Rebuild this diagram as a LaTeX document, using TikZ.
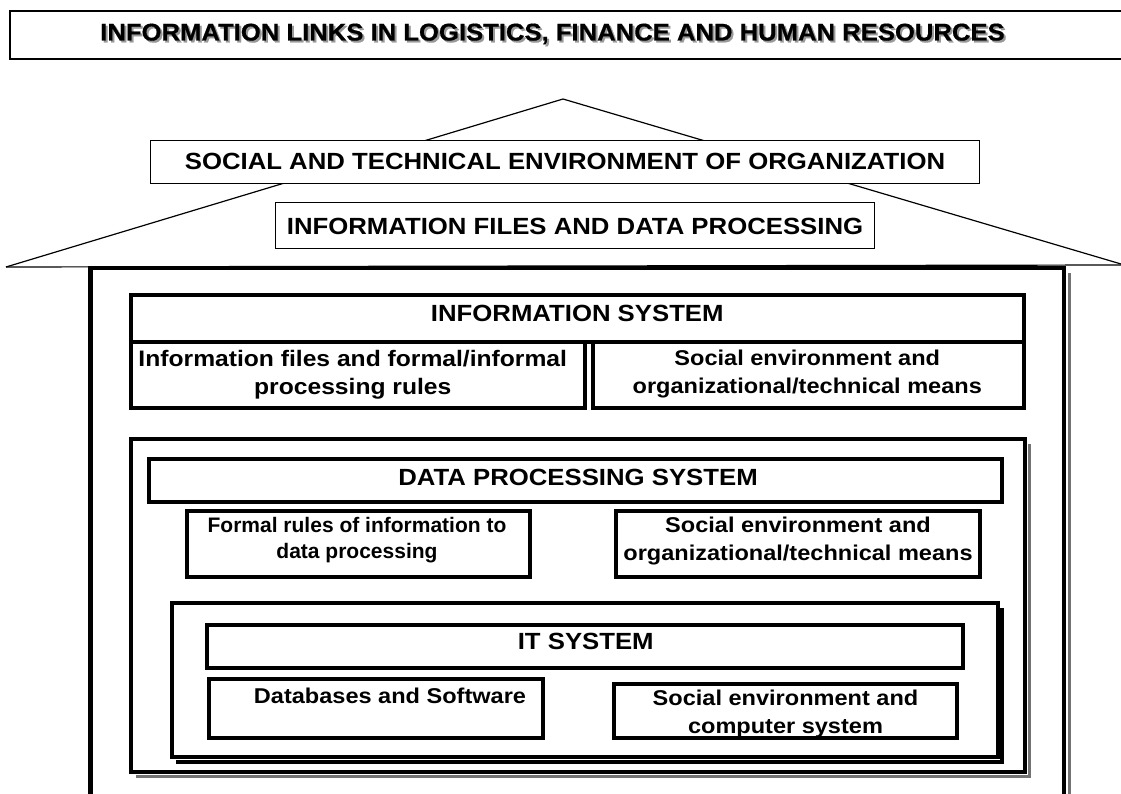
\documentclass[tikz,border=0pt]{standalone}
\usepackage{fontspec}
\setmainfont{Liberation Sans}[FakeStretch=1.1]
\newfontfamily\tdfont{Liberation Sans}[FakeStretch=1.06, FakeBold=0.6]
\newfontfamily\hepfont{Liberation Sans}
\usetikzlibrary{positioning}

\begin{document}
\begin{tikzpicture}[x=1pt, y=-1pt, font=\bfseries, line join=miter]
	\useasboundingbox (0,0) rectangle (1121,794);
	
	% ===== style =====
	\tikzset{
		hop/.style={draw, fill=white, line width=4pt, inner sep=0pt, outer sep=0pt},
		hopmong/.style={hop, line width=1.1pt},
		chu/.style={font=\bfseries\fontsize{23.4}{28}\selectfont, inner sep=0pt, outer sep=0pt},
		chunho/.style={font=\bfseries\fontsize{21.4}{27.5}\selectfont, align=center, inner sep=0pt, outer sep=0pt},
		bong/.style={draw=black!55, line width=3.5pt},
		mai/.style={line width=1.2pt},
		tdchu/.style={font=\tdfont\bfseries\fontsize{24.2}{29}\selectfont, anchor=base, inner sep=0pt},
	}
	
	% ===== tiêu đề =====
	\draw[line width=2.6pt] (1121,11) -- (10,11) -- (10,59) -- (1121,59);
	\node[tdchu, text=black!40] (bongtd) at (554.5,42.5) {INFORMATION LINKS IN LOGISTICS, FINANCE AND HUMAN RESOURCES};
	\node[tdchu] (tieude) at (552.5,40.5) {INFORMATION LINKS IN LOGISTICS, FINANCE AND HUMAN RESOURCES};
	
	% ===== mái nhà =====
	\draw[mai] (6,267) -- (563,99) -- (1121,264);
	\draw[mai] (6,267) -- (1121,265);
	
	\node[hopmong, minimum width=829, minimum height=43] (moitruong) at (565,162) {};
	\node[chu, below=12.5pt of moitruong.north] (tMoitruong) {SOCIAL AND TECHNICAL ENVIRONMENT OF ORGANIZATION};
	
	\node[hopmong, minimum width=599, minimum height=46] (tepTT) at (575,225.5) {};
	\node[chu, below=15.5pt of tepTT.north] (tTepTT) {INFORMATION FILES AND DATA PROCESSING};
	
	% ===== tường nhà =====
	\draw[bong] (1069.5,273) -- (1069.5,800);
	\draw[line width=4.5pt, fill=white] (90.5,800) -- (90.5,268) -- (1064,268) -- (1064,800);
	
	% ===== hệ thống thông tin =====
	\node[hop, minimum width=454.5, minimum height=66] (ttTrai) at (357.75,375) {};
	\node[hop, minimum width=431.5, minimum height=66] (ttPhai) at (808.25,375) {};
	\node[hop, minimum width=893.5, minimum height=47] (hethongTT) at (577.25,318.5) {};
	\node[chu, below=10pt of hethongTT.north] (tHethongTT) {INFORMATION SYSTEM};
	\node[chunho, font=\bfseries\fontsize{22.4}{27.5}\selectfont, below=8.5pt of ttTrai.north, xshift=-5pt] (tTTTrai) {Information files and formal/informal\\processing rules};
	\node[chunho, below=8pt of ttPhai.north, xshift=-1pt] (tTTPhai) {Social environment and\\organizational/technical means};
	
	% ===== hệ thống xử lý dữ liệu =====
	\node[hop, minimum width=894, minimum height=332.5] (khungXL) at (577.5,605.25) {};
	\draw[bong] ([xshift=5pt,yshift=-5pt]khungXL.north east) |- ([xshift=5pt,yshift=-5pt]khungXL.south west);
	\node[hop, minimum width=853, minimum height=43] (hethongXL) at (575.5,480.5) {};
	\node[chu, below=10pt of hethongXL.north, xshift=2.5pt] (tHethongXL) {DATA PROCESSING SYSTEM};
	\node[hop, minimum width=343, minimum height=66.5] (xlTrai) at (358.5,543.75) {};
	\node[hop, minimum width=364, minimum height=66.5] (xlPhai) at (798,543.75) {};
	\node[chunho, font=\hepfont\bfseries\fontsize{21}{26.5}\selectfont, below=6.5pt of xlTrai.north, xshift=-1.5pt] (tXLTrai) {Formal rules of information to\\data processing};
	\node[chunho, below=6.5pt of xlPhai.north] (tXLPhai) {Social environment and\\organizational/technical means};
	
	% ===== hệ thống IT =====
	\node[hop, minimum width=826, minimum height=154] (khungIT) at (584.5,680) {};
	\draw[bong, draw=black, line width=4.5pt] ([xshift=4.5pt,yshift=-5pt]khungIT.north east) |- ([xshift=4.5pt,yshift=-5pt]khungIT.south west);
	\node[hop, minimum width=756.5, minimum height=42.5] (hethongIT) at (584.75,646.25) {};
	\node[chu, below=8pt of hethongIT.north, xshift=1pt] (tHethongIT) {IT SYSTEM};
	\node[hop, minimum width=334, minimum height=59] (itTrai) at (376,708.5) {};
	\node[hop, minimum width=343, minimum height=54] (itPhai) at (785.5,711) {};
	\node[chunho, below=9pt of itTrai.north, xshift=14pt] (tITTrai) {Databases and Software};
	\node[chunho, below=6pt of itPhai.north] (tITPhai) {Social environment and\\computer system};
\end{tikzpicture}
\end{document}
